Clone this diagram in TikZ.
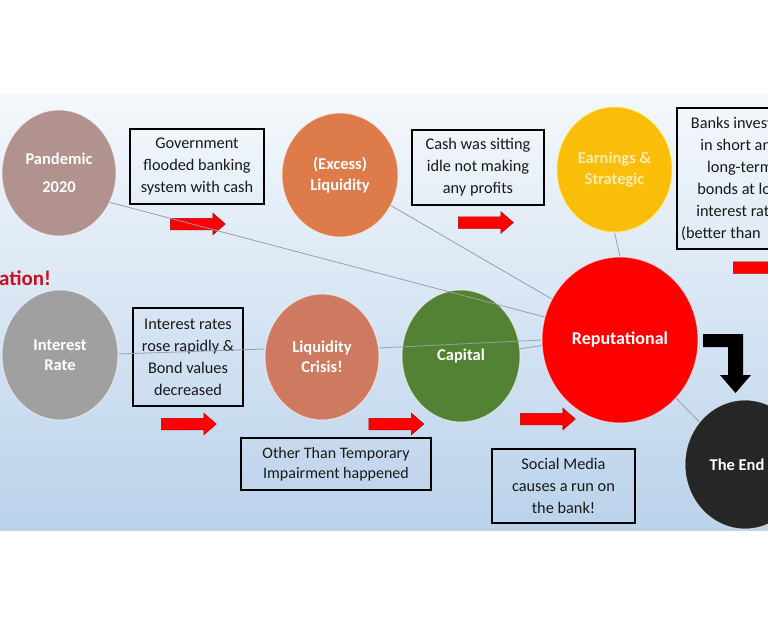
\documentclass[tikz,border=0pt]{standalone}
\usepackage{fontspec}
\setmainfont{Carlito}
\usetikzlibrary{shapes.geometric,shapes.arrows}
\definecolor{bgtop}{RGB}{244,248,252}
\definecolor{bgbot}{RGB}{186,210,235}
\definecolor{cpand}{RGB}{178,146,142}
\definecolor{cexcess}{RGB}{222,123,74}
\definecolor{cearn}{RGB}{250,189,10}
\definecolor{cint}{RGB}{160,160,160}
\definecolor{ccrisis}{RGB}{205,122,96}
\definecolor{ccap}{RGB}{84,130,53}
\definecolor{crep}{RGB}{255,0,0}
\definecolor{cend}{RGB}{38,38,38}
\definecolor{cearntext}{RGB}{253,236,175}
\definecolor{clink}{RGB}{150,160,172}
\definecolor{cation}{RGB}{200,16,30}
\tikzset{
  bubble/.style={ellipse, inner sep=0pt, align=center, text=white,
    font=\bfseries\fontsize{16.5}{21}\selectfont, draw=white, draw opacity=0.55, line width=1pt},
  note/.style={rectangle, draw=black, line width=1.2pt, inner sep=0pt, align=center,
    text=black!90, font=\fontsize{16.3}{22}\selectfont},
  redarrow/.style={single arrow, fill=red, draw=red!70!black, line width=0.5pt,
    inner xsep=0pt, inner ysep=5.5pt, single arrow head extend=5pt,
    single arrow tip angle=82, minimum height=55pt},
  link/.style={draw=clink, line width=0.8pt}
}
\begin{document}
\begin{tikzpicture}[x=1pt,y=-1pt]
\useasboundingbox (0,0) rectangle (768,619);
\clip (0,0) rectangle (768,619);
\fill[white] (0,0) rectangle (768,619);
\shade[top color=bgtop,bottom color=bgbot] (0,94) rectangle (768,530);

% circles
\node[bubble, fill=cpand, minimum width=114pt, minimum height=126pt,
  font=\bfseries\fontsize{16.5}{28}\selectfont] (pandemic) at (59,173) {Pandemic\\2020};
\node[bubble, fill=cexcess, minimum width=116pt, minimum height=124pt] (excess) at (340,175) {(Excess)\\Liquidity};
\node[bubble, fill=cearn, text=cearntext, draw=yellow!60!white, minimum width=115pt, minimum height=125pt] (earnings) at (614.5,169.5) {Earnings \&\\Strategic};
\node[bubble, fill=cint, minimum width=116pt, minimum height=130pt,
  font=\bfseries\fontsize{16.5}{20}\selectfont] (interest) at (60,355) {Interest\\Rate};
\node[bubble, fill=ccrisis, minimum width=114pt, minimum height=126pt,
  font=\bfseries\fontsize{16.5}{20}\selectfont] (crisis) at (322,357) {Liquidity\\Crisis!};
\node[bubble, fill=ccap, minimum width=118pt, minimum height=132pt] (capital) at (461,356) {Capital};
\node[bubble, fill=crep, minimum width=156pt, minimum height=166pt,
  font=\bfseries\fontsize{18}{22}\selectfont] (reputational) at (620,340) {Reputational};
\node[bubble, fill=cend, minimum width=120pt, minimum height=129pt,
  font=\bfseries\fontsize{16.5}{22}\selectfont] (theend) at (745,464.5) {The End\hspace{16pt}};

% text boxes
\node[note, minimum width=134pt, minimum height=75pt] (gov) at (197,166.5)
  {Government\\flooded banking\\system with cash};
\node[note, minimum width=132pt, minimum height=75pt] (cash) at (478,167.5)
  {Cash was sitting\\idle not making\\any profits};
\node[note, minimum width=126pt, minimum height=141pt] (banks) at (740,178.5)
  {Banks invest\hphantom{ed}\\in short an\hphantom{d}\\long-term\\bonds at lo\hphantom{w}\\interest rat\hphantom{es}\\(better than\hphantom{ cash)}};
\node[note, minimum width=110pt, minimum height=98pt] (irates) at (188,357)
  {Interest rates\\rose rapidly \&\\Bond values\\decreased};
\node[note, minimum width=190pt, minimum height=52pt, font=\fontsize{16}{20}\selectfont] (otti) at (336,464)
  {Other Than Temporary\\Impairment happened};
\node[note, minimum width=143pt, minimum height=74pt] (social) at (563.5,486)
  {Social Media\\causes a run on\\the bank!};

% partial heading at left edge
\node[anchor=base west, inner sep=0pt, text=cation, font=\bfseries\fontsize{21}{24}\selectfont] (heading) at (-1,285) {ation!};

% red block arrows
\node[redarrow] (ar1) at (194.5,224) {};
\node[redarrow] (ar2) at (482.5,222.5) {};
\node[redarrow] (ar3) at (757.5,267.5) {};
\node[redarrow] (ar4) at (185.5,424) {};
\node[redarrow] (ar5) at (393,424) {};
\node[redarrow] (ar6) at (544.5,419) {};

% black bent arrow
\fill[black] (703,334) -- (743,334) -- (743,375) -- (751,375) -- (735.5,393)
  -- (720,375) -- (728,375) -- (728,347) -- (703,347) -- cycle;

% thin connectors
\draw[link] (pandemic.-30) -- (reputational.163);
\draw[link] (excess.-31) -- (reputational.149);
\draw[link] (interest.1) -- (crisis.172);
\draw[link] (crisis.9) -- (reputational.180);
\draw[link] (capital.7) -- (reputational.-176);
\draw[link] (earnings.south) -- (reputational.north);
\draw[link] (reputational.-46) -- (theend.137);
\end{tikzpicture}
\end{document}
